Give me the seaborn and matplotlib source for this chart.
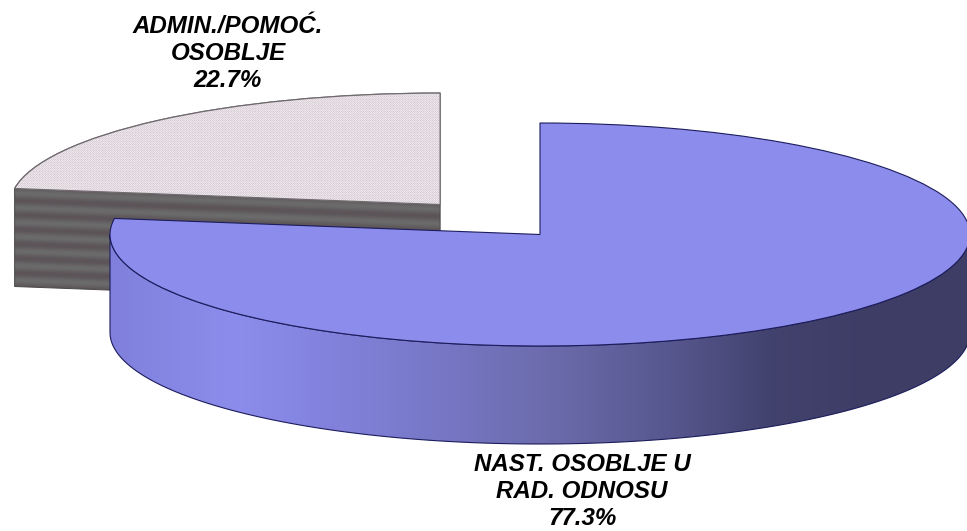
import numpy as np
import matplotlib
matplotlib.use('Agg')
import matplotlib.pyplot as plt
import seaborn as sns
from matplotlib.colors import LinearSegmentedColormap
from matplotlib.patches import Polygon, Wedge

# Data
labels = ['ADMIN./POMOĆ.\nOSOBLJE\n22.7%', 'NAST. OSOBLJE U\nRAD. ODNOSU\n77.3%']
shares = [22.7, 77.3]
explode = [0.355, 0]

# Pie shape in pixels of the 967x531 picture
W, H = 967, 531
cx, cy = 540, 234.5
rx, ry = 430, 111.5
depth = 98 / ry

sns.set_theme(style='white')
plt.rcParams['font.family'] = ['Liberation Sans', 'DejaVu Sans']

fig = plt.figure(figsize=(W / 100, H / 100), dpi=100)
ax = fig.add_axes([0, 0, 1, 1])

wedges, _ = ax.pie(shares, explode=explode, startangle=90, radius=1,
                   colors=['#e2d8de', '#8c8cec'],
                   wedgeprops={'linewidth': 0.8})
ax.set_aspect('auto')
xlim = (-cx / rx, (W - cx) / rx)
ylim = ((cy - H) / ry, cy / ry)
ax.set_xlim(xlim)
ax.set_ylim(ylim)
ax.axis('off')
extent = (xlim[0], xlim[1], ylim[0], ylim[1])

gray, blue = wedges
gray.set_edgecolor('#6e6a6e')
gray.set_zorder(3)
blue.set_edgecolor('#1c1c5c')
blue.set_zorder(7)

# Textures in screen pixels
yy, xx = np.indices((H, W))

# Dotted top of the small slice
dots = ((xx + yy) % 2 == 0) * 0.6 + ((xx % 3 == 0) & (yy % 3 == 0)) * 0.4
dot_cmap = sns.blend_palette(['#ede6eb', '#d2c6ce'], as_cmap=True)
top_img = ax.imshow(dots, extent=extent, cmap=dot_cmap, aspect='auto', zorder=4)
top_img.set_clip_path(gray)
ax.add_patch(Wedge(gray.center, 1, gray.theta1, gray.theta2,
                   fc='none', ec='#6e6a6e', lw=0.9, zorder=5))

# Striped back wall of the small slice
t = np.radians(gray.theta2)
gx, gy = gray.center
corner = (gx + np.cos(t), gy + np.sin(t))
wall = Polygon([corner, (gx, gy), (gx, gy - depth), (corner[0], corner[1] - depth)],
               fc='none', ec='#4a484a', lw=0.7, zorder=2)
ax.add_patch(wall)
stripes = np.sin(2 * np.pi * (yy - 0.0376 * xx) / 14.5)
stripe_cmap = sns.blend_palette(['#5c5458', '#6b6b6b'], as_cmap=True)
wall_img = ax.imshow(stripes, extent=extent, cmap=stripe_cmap, aspect='auto', zorder=1)
wall_img.set_clip_path(wall)

# Shaded front wall of the big slice
theta = np.linspace(np.pi, 2 * np.pi, 200)
rim = np.column_stack([np.cos(theta), np.sin(theta)])
lower = rim[::-1] - [0, depth]
front = Polygon(np.vstack([rim, lower]), fc='none', ec='#1c1c5c', lw=0.8, zorder=6)
ax.add_patch(front)
wall_cmap = LinearSegmentedColormap.from_list('wall', [
    (0.00, '#8080dc'), (0.16, '#8c8cec'), (0.25, '#8585e2'), (0.42, '#7878c8'),
    (0.59, '#6a6aaa'), (0.75, '#55558c'), (0.87, '#42426e'), (1.00, '#3d3d66')])
shade = np.clip((xx[:1] - 110) / 760, 0, 1)
front_img = ax.imshow(shade, extent=extent, cmap=wall_cmap, vmin=0, vmax=1,
                      aspect='auto', zorder=5.5)
front_img.set_clip_path(front)

# Labels
for text, x, y in zip(labels, [228, 582], [53.5, 491.5]):
    fig.text(x / W, 1 - y / H, text, ha='center', va='center', fontsize=17.4,
             fontweight='bold', fontstyle='italic', color='black', linespacing=1.2)

ax.set_xlim(xlim)
ax.set_ylim(ylim)
fig.savefig('out.png', dpi=100, facecolor='white')
